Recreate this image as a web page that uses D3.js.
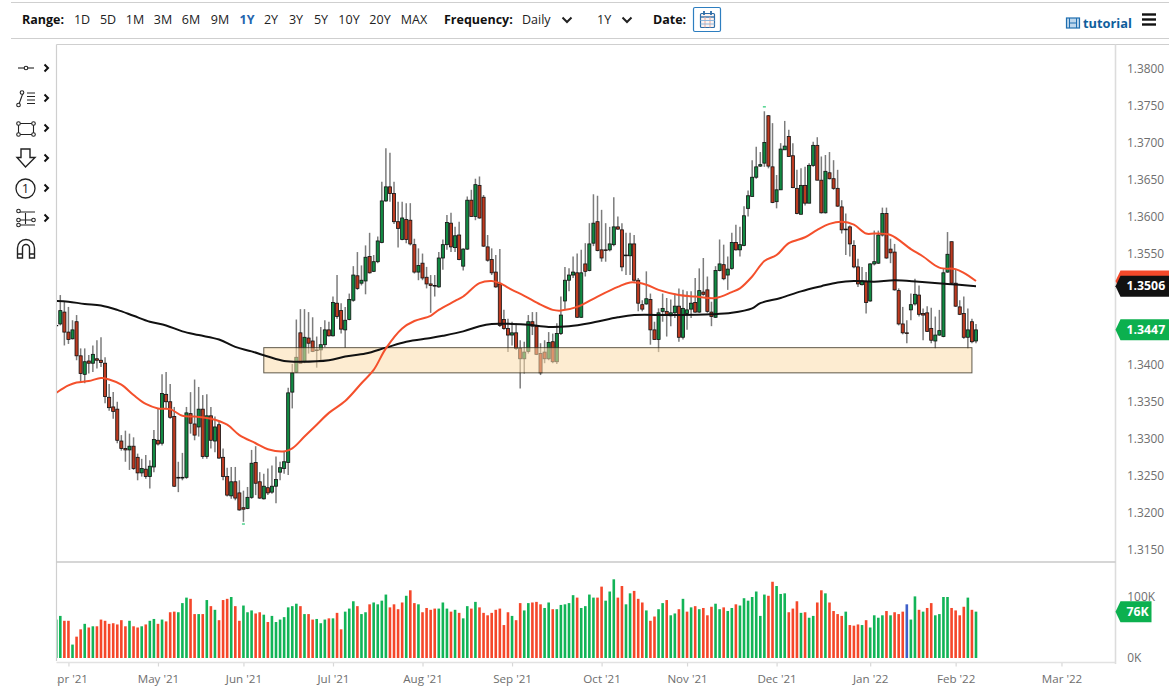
<!DOCTYPE html>
<html><head><meta charset="utf-8">
<script src="https://cdnjs.cloudflare.com/ajax/libs/d3/7.8.5/d3.min.js"></script>
<style>
html,body{margin:0;padding:0;background:#fff;overflow:hidden}
svg{display:block;font-family:"Open Sans",sans-serif}
</style></head><body><svg id="c" width="1169" height="696"></svg>
<script>
// bar numbers run from -1 (the partly hidden first bar) to 225
const firstBar = -1, lastBar = 225;
const opens = [1.3453,
1.3455,1.3471,1.3444,1.3435,1.3458,1.3412,1.3387,1.3405,1.3402,1.3408,
1.3406,1.3402,1.3356,1.3343,1.3340,1.3297,1.3287,1.3285,1.3290,1.3275,
1.3254,1.3259,1.3249,1.3262,1.3298,1.3294,1.3360,1.3350,1.3330,1.3248,
1.3247,1.3248,1.3334,1.3320,1.3316,1.3340,1.3276,1.3331,1.3297,1.3319,
1.3275,1.3249,1.3223,1.3242,1.3227,1.3207,1.3206,1.3221,1.3268,1.3242,
1.3219,1.3234,1.3228,1.3236,1.3255,1.3260,1.3268,1.3363,1.3390,1.3443,
1.3404,1.3436,1.3432,1.3420,1.3420,1.3427,1.3447,1.3439,1.3483,1.3473,
1.3447,1.3461,1.3487,1.3520,1.3510,1.3513,1.3546,1.3526,1.3539,1.3565,
1.3621,1.3640,1.3631,1.3593,1.3569,1.3596,1.3595,1.3562,1.3525,1.3537,
1.3518,1.3509,1.3507,1.3505,1.3544,1.3562,1.3591,1.3558,1.3575,1.3533,
1.3556,1.3622,1.3600,1.3642,1.3626,1.3559,1.3542,1.3525,1.3509,1.3461,
1.3449,1.3440,1.3443,1.3422,1.3408,1.3418,1.3458,1.3452,1.3415,1.3417,
1.3408,1.3431,1.3404,1.3442,1.3486,1.3514,1.3521,1.3524,1.3464,1.3536,
1.3527,1.3564,1.3593,1.3555,1.3555,1.3555,1.3562,1.3586,1.3582,1.3548,
1.3547,1.3563,1.3514,1.3481,1.3482,1.3488,1.3447,1.3434,1.3472,1.3472,
1.3466,1.3470,1.3479,1.3437,1.3469,1.3475,1.3484,1.3471,1.3498,1.3501,
1.3471,1.3464,1.3527,1.3535,1.3521,1.3530,1.3565,1.3555,1.3561,1.3611,
1.3627,1.3653,1.3668,1.3672,1.3736,1.3667,1.3620,1.3636,1.3690,1.3708,
1.3682,1.3638,1.3603,1.3642,1.3618,1.3669,1.3696,1.3649,1.3605,1.3659,
1.3651,1.3638,1.3613,1.3583,1.3586,1.3561,1.3532,1.3508,1.3512,1.3486,
1.3536,1.3537,1.3575,1.3604,1.3556,1.3552,1.3500,1.3455,1.3443,1.3474,
1.3482,1.3494,1.3469,1.3470,1.3449,1.3432,1.3440,1.3438,1.3525,1.3566,
1.3510,1.3478,1.3469,1.3437,1.3458,1.3432];
const closes = [1.3453,
1.3473,1.3444,1.3434,1.3447,1.3412,1.3388,1.3404,1.3402,1.3414,1.3406,
1.3403,1.3357,1.3342,1.3337,1.3298,1.3287,1.3285,1.3290,1.3260,1.3254,
1.3260,1.3249,1.3263,1.3299,1.3293,1.3361,1.3350,1.3329,1.3236,1.3247,
1.3248,1.3335,1.3321,1.3305,1.3340,1.3276,1.3331,1.3298,1.3316,1.3274,
1.3249,1.3224,1.3242,1.3220,1.3204,1.3205,1.3221,1.3267,1.3240,1.3220,
1.3236,1.3227,1.3236,1.3245,1.3261,1.3269,1.3362,1.3389,1.3410,1.3402,
1.3437,1.3429,1.3418,1.3419,1.3427,1.3447,1.3439,1.3484,1.3465,1.3448,
1.3460,1.3488,1.3521,1.3503,1.3514,1.3545,1.3524,1.3539,1.3567,1.3621,
1.3640,1.3631,1.3593,1.3584,1.3598,1.3569,1.3563,1.3525,1.3534,1.3517,
1.3509,1.3507,1.3506,1.3544,1.3562,1.3592,1.3559,1.3574,1.3542,1.3556,
1.3622,1.3600,1.3643,1.3598,1.3560,1.3541,1.3524,1.3505,1.3453,1.3449,
1.3440,1.3443,1.3422,1.3408,1.3417,1.3458,1.3452,1.3414,1.3389,1.3408,
1.3430,1.3404,1.3442,1.3467,1.3514,1.3521,1.3525,1.3464,1.3524,1.3526,
1.3563,1.3591,1.3554,1.3544,1.3554,1.3563,1.3586,1.3583,1.3532,1.3547,
1.3563,1.3514,1.3483,1.3475,1.3489,1.3447,1.3434,1.3470,1.3476,1.3467,
1.3470,1.3479,1.3437,1.3476,1.3474,1.3483,1.3471,1.3500,1.3495,1.3472,
1.3465,1.3527,1.3536,1.3516,1.3529,1.3565,1.3555,1.3562,1.3601,1.3628,
1.3653,1.3667,1.3670,1.3700,1.3668,1.3619,1.3636,1.3691,1.3695,1.3681,
1.3639,1.3604,1.3642,1.3618,1.3669,1.3696,1.3649,1.3605,1.3661,1.3651,
1.3638,1.3614,1.3582,1.3582,1.3563,1.3532,1.3509,1.3513,1.3484,1.3536,
1.3539,1.3575,1.3604,1.3544,1.3551,1.3501,1.3455,1.3443,1.3442,1.3481,
1.3495,1.3468,1.3467,1.3445,1.3433,1.3440,1.3446,1.3524,1.3549,1.3510,
1.3479,1.3468,1.3437,1.3447,1.3431,1.3447];
const highs = [1.3460,
1.3494,1.3485,1.3478,1.3460,1.3467,1.3422,1.3422,1.3413,1.3426,1.3433,
1.3437,1.3410,1.3374,1.3363,1.3350,1.3305,1.3311,1.3307,1.3302,1.3280,
1.3273,1.3278,1.3271,1.3312,1.3341,1.3387,1.3390,1.3374,1.3343,1.3269,
1.3281,1.3343,1.3363,1.3380,1.3370,1.3359,1.3360,1.3343,1.3330,1.3323,
1.3287,1.3261,1.3262,1.3262,1.3244,1.3230,1.3235,1.3285,1.3290,1.3255,
1.3253,1.3260,1.3264,1.3276,1.3269,1.3284,1.3369,1.3401,1.3461,1.3475,
1.3475,1.3471,1.3464,1.3438,1.3451,1.3460,1.3458,1.3492,1.3521,1.3483,
1.3478,1.3496,1.3533,1.3552,1.3534,1.3561,1.3578,1.3548,1.3573,1.3647,
1.3692,1.3686,1.3647,1.3620,1.3620,1.3618,1.3618,1.3570,1.3557,1.3550,
1.3532,1.3521,1.3521,1.3552,1.3569,1.3602,1.3605,1.3586,1.3593,1.3557,
1.3627,1.3636,1.3651,1.3654,1.3629,1.3575,1.3557,1.3548,1.3556,1.3474,
1.3462,1.3458,1.3456,1.3433,1.3431,1.3467,1.3471,1.3471,1.3429,1.3433,
1.3444,1.3442,1.3456,1.3492,1.3532,1.3530,1.3546,1.3550,1.3555,1.3564,
1.3591,1.3630,1.3628,1.3609,1.3591,1.3586,1.3626,1.3600,1.3591,1.3578,
1.3578,1.3575,1.3517,1.3487,1.3526,1.3496,1.3458,1.3476,1.3496,1.3490,
1.3488,1.3496,1.3503,1.3501,1.3499,1.3499,1.3517,1.3530,1.3544,1.3519,
1.3485,1.3533,1.3569,1.3562,1.3546,1.3578,1.3589,1.3586,1.3614,1.3635,
1.3676,1.3694,1.3687,1.3742,1.3737,1.3726,1.3656,1.3699,1.3729,1.3717,
1.3699,1.3663,1.3665,1.3667,1.3672,1.3701,1.3707,1.3681,1.3683,1.3687,
1.3676,1.3663,1.3622,1.3604,1.3588,1.3568,1.3543,1.3532,1.3525,1.3537,
1.3581,1.3581,1.3612,1.3612,1.3570,1.3563,1.3503,1.3478,1.3460,1.3496,
1.3516,1.3507,1.3476,1.3479,1.3477,1.3465,1.3474,1.3530,1.3579,1.3566,
1.3528,1.3487,1.3492,1.3476,1.3462,1.3455];
const lows = [1.3453,
1.3453,1.3426,1.3428,1.3434,1.3406,1.3377,1.3375,1.3388,1.3390,1.3395,
1.3397,1.3348,1.3338,1.3327,1.3294,1.3284,1.3269,1.3258,1.3258,1.3244,
1.3249,1.3246,1.3233,1.3255,1.3291,1.3291,1.3341,1.3327,1.3235,1.3228,
1.3244,1.3246,1.3307,1.3298,1.3303,1.3273,1.3273,1.3287,1.3282,1.3273,
1.3244,1.3222,1.3219,1.3217,1.3203,1.3188,1.3205,1.3219,1.3224,1.3219,
1.3218,1.3224,1.3226,1.3213,1.3244,1.3253,1.3251,1.3341,1.3389,1.3402,
1.3402,1.3415,1.3417,1.3396,1.3406,1.3424,1.3438,1.3438,1.3462,1.3442,
1.3423,1.3460,1.3485,1.3501,1.3507,1.3495,1.3523,1.3525,1.3537,1.3564,
1.3620,1.3620,1.3590,1.3558,1.3568,1.3564,1.3561,1.3523,1.3514,1.3514,
1.3503,1.3470,1.3492,1.3504,1.3528,1.3555,1.3552,1.3552,1.3541,1.3527,
1.3555,1.3600,1.3595,1.3597,1.3559,1.3539,1.3521,1.3504,1.3451,1.3447,
1.3417,1.3426,1.3420,1.3368,1.3388,1.3415,1.3440,1.3413,1.3386,1.3402,
1.3406,1.3402,1.3401,1.3440,1.3474,1.3499,1.3517,1.3463,1.3463,1.3519,
1.3526,1.3560,1.3553,1.3539,1.3539,1.3553,1.3560,1.3582,1.3526,1.3521,
1.3521,1.3512,1.3472,1.3472,1.3481,1.3427,1.3434,1.3417,1.3458,1.3438,
1.3452,1.3463,1.3431,1.3434,1.3447,1.3463,1.3470,1.3470,1.3493,1.3470,
1.3452,1.3463,1.3526,1.3514,1.3501,1.3528,1.3554,1.3546,1.3560,1.3600,
1.3627,1.3651,1.3667,1.3667,1.3665,1.3618,1.3611,1.3636,1.3690,1.3681,
1.3638,1.3603,1.3603,1.3615,1.3618,1.3667,1.3649,1.3604,1.3604,1.3650,
1.3636,1.3613,1.3577,1.3548,1.3546,1.3530,1.3505,1.3507,1.3469,1.3485,
1.3534,1.3536,1.3573,1.3543,1.3537,1.3500,1.3453,1.3441,1.3429,1.3460,
1.3480,1.3465,1.3433,1.3444,1.3429,1.3422,1.3439,1.3437,1.3524,1.3509,
1.3478,1.3467,1.3435,1.3422,1.3429,1.3429];
const volumes = [63,
69,61,61,22,35,47,56,50,52,52,63,61,56,57,55,62,52,61,52,50,
52,55,61,64,56,63,60,75,76,75,90,99,97,72,72,72,95,85,79,62,
95,97,100,85,61,86,75,78,73,75,71,59,69,59,63,67,83,85,89,85,
72,72,63,64,57,63,65,65,74,47,76,81,93,85,72,75,88,91,88,94,
104,83,88,80,91,102,111,90,88,75,82,79,81,81,91,81,76,79,74,65,
85,81,92,83,74,70,74,79,81,54,75,69,62,90,78,90,91,92,88,82,
91,80,80,87,88,90,103,99,82,85,104,99,99,117,94,109,129,99,118,88,
106,110,97,91,78,61,68,80,90,95,70,73,80,97,76,83,85,80,82,70,
84,89,80,83,77,82,88,86,98,94,100,109,69,104,102,125,118,105,106,75,
81,93,74,75,66,69,91,111,106,91,77,72,69,76,54,53,55,54,62,50,
70,66,70,77,70,75,72,76,88,63,101,79,76,82,90,70,72,100,100,82,
78,70,84,99,79,76];
const volumeSide = "G"+
"GRRGRRGRGR"+"RRRRRRRGRR"+"GRGGRGRRRG"+"GGRRGRGRGR"+"RRGRRGGGRR"+
"GRGGGGGGGR"+"GRRGGGRGRR"+"GGGRGGRGGG"+"GRRRRGRRGR"+"RRRGGGRGRG"+
"GRGRRRRRRR"+"RGRRGGRRRG"+"GRGGGGGRGG"+"GGRRGGGRRG"+"GRRRGRRGGR"+
"GGRGRGRGRR"+"RGGRGGRGGG"+"GGGGRRGGGR"+"RRGRGGRRGR"+"RRRGRRRGRG"+
"GGGRGRRRBG"+"GRGRRGGGGR"+"RRRGRG";
const movingAvg50Bars = [-1,2,4,7,10,12,15,18,21,24,27,30,33,37,41,44,48,51,55,57,60,63,66,70,74,77,80,84,87,91,93,97,99,103,106,108,111,114,118,121,123,127,132,137,140,144,147,152,156,161,165,167,170,173,176,179,183,186,189,192,195,198,200,204,209,212,216,220,222,225];
const movingAvg50 = [1.3362,1.3372,1.3376,1.3378,1.3382,1.3380,1.3373,1.3359,1.3347,1.3341,1.3340,1.3331,1.3330,1.3327,1.3319,1.3305,1.3294,1.3286,1.3283,1.3287,1.3303,1.3319,1.3335,1.3351,1.3375,1.3393,1.3422,1.3449,1.3459,1.3466,1.3474,1.3486,1.3492,1.3510,1.3513,1.3510,1.3501,1.3493,1.3481,1.3474,1.3473,1.3478,1.3492,1.3505,1.3511,1.3508,1.3501,1.3494,1.3492,1.3490,1.3498,1.3503,1.3519,1.3540,1.3548,1.3564,1.3572,1.3582,1.3590,1.3593,1.3589,1.3577,1.3577,1.3575,1.3556,1.3546,1.3531,1.3529,1.3524,1.3513];
const movingAvg200Bars = [-1,2,6,10,14,18,22,26,30,34,39,43,47,51,55,59,66,70,75,80,85,91,94,99,103,106,111,115,120,125,130,137,141,150,160,165,170,172,177,182,187,191,195,200,205,211,218,225];
const movingAvg200 = [1.3486,1.3485,1.3482,1.3480,1.3474,1.3466,1.3458,1.3453,1.3445,1.3440,1.3434,1.3424,1.3418,1.3411,1.3405,1.3404,1.3406,1.3411,1.3415,1.3423,1.3431,1.3436,1.3439,1.3445,1.3452,1.3455,1.3455,1.3454,1.3451,1.3452,1.3456,1.3464,1.3467,1.3467,1.3468,1.3470,1.3476,1.3483,1.3490,1.3499,1.3506,1.3511,1.3513,1.3512,1.3514,1.3512,1.3509,1.3506];
const priceTicks = [1.38,1.375,1.37,1.365,1.36,1.355,1.34,1.335,1.33,1.325,1.32,1.315];
const volumeTicks = [0,100];
const monthBars = [2,24,45,67,89,111,133,154,176,199,220,246];
const monthLabels = ["Apr '21","May '21","Jun '21","Jul '21","Aug '21","Sep '21","Oct '21","Nov '21","Dec '21","Jan '22","Feb '22","Mar '22"];
const zoneTop = 1.3423, zoneBottom = 1.3389, zoneFirstBar = 50, zoneLastBar = 224;
const lastClose = 1.3447, lastMA50 = 1.3513, lastMA200 = 1.3506, lastVolume = 76;
const rangeItems = [["1D",82],["5D",108],["1M",135],["3M",163],["6M",191],["9M",220],["1Y",247],["2Y",271],["3Y",296],["5Y",321],["10Y",349],["20Y",380],["MAX",414]];

const svg = d3.select("#c");
const C = {line:"#cfcfcf",up:"#128a43",down:"#bd3a20",vUp:"#12b457",vDown:"#f5472a",vOther:"#3f5fc9",txt:"#6e6e6e",tagUp:"#0cb04f",tagDown:"#f4492a",tagBlack:"#111"};
const x = d3.scaleLinear().domain([firstBar,lastBar]).range([56.23,976]);
const y = d3.scaleLinear().domain([1.38,1.32]).range([68.3,512.9]);
const yv = d3.scaleLinear().domain([0,100]).range([658,597]);
const rows = d3.range(opens.length).map(k=>({bar:firstBar+k,o:opens[k],c:closes[k],h:highs[k],l:lows[k],v:volumes[k],s:volumeSide[k]}));

// frame
const hl=(x1,x2,yy,c=C.line,w=1.2)=>svg.append("line").attr("x1",x1).attr("x2",x2).attr("y1",yy).attr("y2",yy).attr("stroke",c).attr("stroke-width",w);
const vl=(xx,y1,y2,c=C.line,w=1.2)=>svg.append("line").attr("x1",xx).attr("x2",xx).attr("y1",y1).attr("y2",y2).attr("stroke",c).attr("stroke-width",w);
hl(11,1169,2.5); hl(11,1169,38.5); hl(56.5,1169,44.5);
vl(56.5,44.5,661); vl(1115.5,44.5,664,"#dcdcdc",1.6);
hl(56.5,1115.5,562,"#c8c8c8",1.4); hl(56.5,1115.5,662.5,"#e2e2e2",1.6);

const defs=svg.append("defs");
defs.append("clipPath").attr("id","plot").append("rect").attr("x",57).attr("y",45).attr("width",1058).attr("height",517);
defs.append("clipPath").attr("id","vol").append("rect").attr("x",57).attr("y",563).attr("width",1058).attr("height",99);
defs.append("clipPath").attr("id","xl").append("rect").attr("x",57).attr("y",663).attr("width",1112).attr("height",30);

// candles
const g=svg.append("g").attr("clip-path","url(#plot)");
g.selectAll("line.w").data(rows).join("line").attr("class","w")
 .attr("x1",d=>x(d.bar)).attr("x2",d=>x(d.bar)).attr("y1",d=>y(d.h)).attr("y2",d=>y(d.l))
 .attr("stroke","#7c7c7c").attr("stroke-width",1.5);
g.selectAll("rect.b").data(rows).join("rect").attr("class","b")
 .attr("x",d=>x(d.bar)-1.55).attr("width",3.1)
 .attr("y",d=>y(Math.max(d.o,d.c))).attr("height",d=>Math.max(0.4,y(Math.min(d.o,d.c))-y(Math.max(d.o,d.c))))
 .attr("fill",d=>d.c>=d.o?C.up:C.down).attr("stroke","#111").attr("stroke-width",.8);
// high and low markers
[[173,1.3748],[45,1.3185]].forEach(m=>g.append("rect").attr("x",x(m[0])-1.5).attr("y",y(m[1])-.7).attr("width",3).attr("height",1.4).attr("fill","#45d087"));

// support zone, over the candles but under the moving averages
g.append("rect").attr("x",x(zoneFirstBar)).attr("width",x(zoneLastBar)-x(zoneFirstBar))
 .attr("y",y(zoneTop)).attr("height",y(zoneBottom)-y(zoneTop))
 .attr("fill","#fcdcab").attr("fill-opacity",.55).attr("stroke","#2a2415").attr("stroke-opacity",.75).attr("stroke-width",1);

// moving averages
const lineGen=d3.line().x(d=>x(d[0])).y(d=>y(d[1])).curve(d3.curveCatmullRom.alpha(.5));
g.append("path").attr("d",lineGen(d3.zip(movingAvg200Bars,movingAvg200))).attr("fill","none").attr("stroke","#111").attr("stroke-width",2);
g.append("path").attr("d",lineGen(d3.zip(movingAvg50Bars,movingAvg50))).attr("fill","none").attr("stroke","#f4502c").attr("stroke-width",2);

// volume
const gv=svg.append("g").attr("clip-path","url(#vol)");
gv.selectAll("rect").data(rows).join("rect")
 .attr("x",d=>x(d.bar)-1.3).attr("width",2.6).attr("y",d=>yv(d.v)).attr("height",d=>yv(0)-yv(d.v))
 .attr("fill",d=>d.s==="G"?C.vUp:d.s==="R"?C.vDown:C.vOther);

// axes
const axP=svg.append("g").attr("transform","translate(1115.5,0)").call(d3.axisRight(y).tickValues(priceTicks).tickFormat(d3.format(".4f")).tickSize(0).tickPadding(11.5));
axP.select(".domain").remove();
axP.selectAll("text").attr("fill",C.txt).attr("font-size",11.9).attr("font-family","'Open Sans'");
const axV=svg.append("g").attr("transform","translate(1115.5,0)").call(d3.axisRight(yv).tickValues(volumeTicks).tickFormat(d=>d+"K").tickSize(0));
axV.select(".domain").remove();
axV.selectAll("text").attr("fill",C.txt).attr("font-size",11.9).attr("font-family","'Open Sans'").attr("x",11.8);
const axX=svg.append("g").attr("clip-path","url(#xl)").append("g").attr("transform","translate(0,662.5)").call(d3.axisBottom(x).tickValues(monthBars).tickFormat((d,i)=>monthLabels[i]).tickSize(4).tickPadding(8));
axX.select(".domain").remove();
axX.selectAll("line").attr("stroke","#d8d8d8").attr("stroke-width",1.2);
axX.selectAll("text").attr("fill",C.txt).attr("font-size",11.6).attr("font-family","'Open Sans'");

// value tags
const tag=(cy,col,label,right=1169)=>{
 const h=10.5,l=1115.5,n=5;
 svg.append("path").attr("d",`M${l},${cy}L${l+n},${cy-h}H${right}V${cy+h}H${l+n}Z`).attr("fill",col);
 svg.append("text").attr("x",1126.5).attr("y",cy+4.3).attr("fill","#fff").attr("font-size",12.3).attr("font-weight",700).text(label);
};
tag(y(lastMA50),C.tagDown,lastMA50.toFixed(4));
tag(y(lastMA200),C.tagBlack,lastMA200.toFixed(4));
tag(y(lastClose),C.tagUp,lastClose.toFixed(4));
tag(yv(lastVolume),C.tagUp,lastVolume+"K",1151.5);

// top toolbar
const T=(t,xx,anchor="start",o={})=>svg.append("text").attr("x",xx).attr("y",o.y||23.5).attr("text-anchor",anchor).attr("font-size",o.s||12.5).attr("font-weight",o.w||400).attr("fill",o.c||"#222").text(t);
T("Range:",22,"start",{w:700,c:"#111"});
rangeItems.forEach(([t,xx])=>T(t,xx,"middle",t==="1Y"?{w:700,c:"#2565ae"}:{}));
T("Frequency:",444,"start",{w:700,c:"#111"});
T("Daily",522);
T("1Y",597);
T("Date:",653,"start",{w:700,c:"#111"});
const chev=(cx,cy)=>svg.append("path").attr("d",`M${cx-4.5},${cy-2.5}L${cx},${cy+2}L${cx+4.5},${cy-2.5}`).attr("fill","none").attr("stroke","#222").attr("stroke-width",2);
chev(567,20); chev(627,20);
svg.append("rect").attr("x",693.5).attr("y",7.5).attr("width",27).attr("height",24).attr("rx",1.5).attr("fill","#fff").attr("stroke","#2d7ec0").attr("stroke-width",1.2);
svg.append("rect").attr("x",700.5).attr("y",13.5).attr("width",14).attr("height",14).attr("rx",1).attr("fill","#fdf3f0").attr("stroke","#2d6da8").attr("stroke-width",1.2);
hl(700.5,714.5,17,"#2d6da8",1.4);
[705,710].forEach(a=>vl(a,17,27.5,"#e7a9a0",1));
[20.5,24].forEach(b=>hl(700.5,714.5,b,"#8db7dc",1));
[704,711].forEach(a=>vl(a,11,15,"#2d6da8",1.8));
// tutorial
svg.append("rect").attr("x",1066.5).attr("y",18).attr("width",13).attr("height",10).attr("fill","#bcd6ec").attr("stroke","#1f6eb0").attr("stroke-width",1.2);
[1069.5,1076.5].forEach(a=>vl(a,18,28,"#1f6eb0",1));
hl(1069.5,1076.5,23,"#1f6eb0",1);
T("tutorial",1083,"start",{w:700,c:"#0f5e9c",s:12.8,y:28});
[14.5,19.5,24.5].forEach(a=>hl(1142,1156,a,"#111",2.4));

// drawing tools
const tools=svg.append("g").attr("fill","none").attr("stroke","#222").attr("stroke-width",1.1);
const P=d=>tools.append("path").attr("d",d);
const O=(cx,cy,r=1.8)=>tools.append("circle").attr("cx",cx).attr("cy",cy).attr("r",r).attr("fill","#fff");
P("M18,68H34"); O(26,68);
P("M19,104L23,93"); O(18.5,105); O(22,92.5);
P("M27,93H35M27,96.5H35M27,100H35M27,103.5H35");
P("M18.5,123.5H33.5V134.5H18.5Z"); [[18.5,123.5],[33.5,123.5],[18.5,134.5],[33.5,134.5]].forEach(p=>O(p[0],p[1]));
P("M21,149H30V157.5H35L25.5,167L17,157.5H21Z").attr("stroke-width",1.4);
tools.append("circle").attr("cx",25.5).attr("cy",188.5).attr("r",9.5).attr("stroke-width",1.3);
tools.append("text").attr("x",25.5).attr("y",193).attr("text-anchor","middle").attr("font-size",13).attr("stroke","none").attr("fill","#222").text("1");
P("M19,212H35M19,225H35M19,220H33M25.5,213V224");
O(18.5,211); O(18.5,220); O(18.5,225); O(33.5,220);
P("M17.5,258V248A8.5,8.5 0 0 1 34.5,248V258H29.5V248A3.5,3.5 0 0 0 22.5,248V258ZM17.5,254H22.5M29.5,254H34.5").attr("stroke-width",1.4);
const chevs=svg.append("g");
[68,98,128,158,188,218].forEach(cy=>chevs.append("path").attr("d",`M44.5,${cy-3.5}L48,${cy}L44.5,${cy+3.5}`).attr("fill","none").attr("stroke","#111").attr("stroke-width",2));
</script></body></html>
